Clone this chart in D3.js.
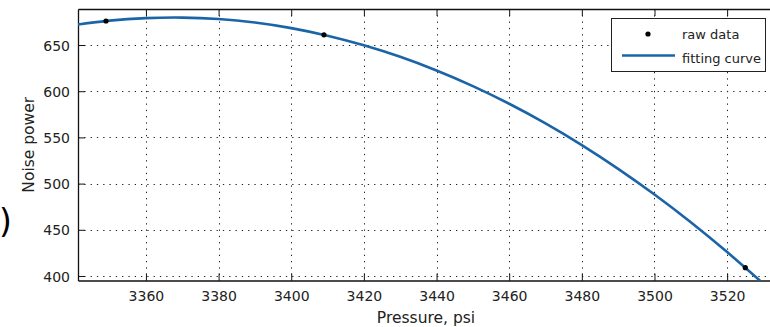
<!DOCTYPE html>
<html>
<head>
<meta charset="utf-8">
<script src="https://cdn.jsdelivr.net/npm/d3@7.9.0/dist/d3.min.js"></script>
<style>
  body { margin: 0; background: #fff; }
  svg { display: block; font-family: "DejaVu Sans", sans-serif; }
</style>
</head>
<body>
<svg id="chart" width="770" height="327"></svg>
<script>
// raw data points
const rawPressure = [3349, 3409, 3525];
const rawNoise = [676, 661, 409];

// fitting curve
const curvePressure = [3340, 3350, 3360, 3370, 3380, 3390, 3400, 3410, 3420, 3430,
  3440, 3450, 3460, 3470, 3480, 3490, 3500, 3510, 3520, 3530];
const curveNoise = [671.5, 676.4, 679.1, 679.7, 678.1, 674.3, 668.3, 660.1, 649.7, 637.2,
  622.4, 605.5, 586.4, 565.2, 541.7, 516.0, 488.2, 458.2, 425.9, 391.6];

const xTicks = [3360, 3380, 3400, 3420, 3440, 3460, 3480, 3500, 3520];
const yTicks = [400, 450, 500, 550, 600, 650];
const legendLabels = ["raw data", "fitting curve"];

const svg = d3.select("#chart");
const plotL = 78, plotT = 9, plotR = 774, plotB = 280.5;
const blue = "#1c64a8";

const x = d3.scaleLinear().domain([3341.3, 3532.9]).range([plotL, plotR]);
const y = d3.scaleLinear().domain([395.1, 689]).range([plotB, plotT]);

// stray bracket at the left edge of the picture
svg.append("text").attr("x", -1).attr("y", 233).attr("font-size", 33)
  .attr("fill", "#000").text(")");

svg.append("clipPath").attr("id", "plot")
  .append("rect").attr("x", plotL).attr("y", plotT)
  .attr("width", plotR - plotL).attr("height", plotB - plotT);

// dotted grid
const grid = svg.append("g").attr("stroke", "#222").attr("stroke-width", 1)
  .attr("stroke-dasharray", "1.3,5");
grid.selectAll(".vg").data(xTicks).join("line")
  .attr("x1", d => Math.round(x(d)) + 0.5).attr("x2", d => Math.round(x(d)) + 0.5)
  .attr("y1", plotT).attr("y2", plotB);
grid.selectAll(".hg").data(yTicks).join("line")
  .attr("y1", d => Math.round(y(d)) + 0.5).attr("y2", d => Math.round(y(d)) + 0.5)
  .attr("x1", plotL).attr("x2", plotR);

// axes with inward ticks
const xAxis = svg.append("g").attr("transform", `translate(0,${plotB})`)
  .call(d3.axisBottom(x).tickValues(xTicks).tickSizeInner(-7).tickSizeOuter(0).tickPadding(11).tickFormat(d3.format("d")));
const xTop = svg.append("g").attr("transform", `translate(0,${plotT})`)
  .call(d3.axisTop(x).tickValues(xTicks).tickSizeInner(-7).tickSizeOuter(0).tickFormat(""));
const yAxis = svg.append("g").attr("transform", `translate(${plotL},0)`)
  .call(d3.axisLeft(y).tickValues(yTicks).tickSizeInner(-7).tickSizeOuter(0).tickPadding(8));

[xAxis, xTop, yAxis].forEach(g => {
  g.selectAll(".domain").attr("stroke", "#111").attr("stroke-width", 1.3);
  g.selectAll(".tick line").attr("stroke", "#111");
  g.selectAll("text").attr("font-family", "DejaVu Sans, sans-serif")
    .attr("font-size", 14).attr("fill", "#222");
});
yAxis.selectAll("text").attr("dy", "0.36em");

// fitting curve
const line = d3.line().x(d => x(d[0])).y(d => y(d[1])).curve(d3.curveNatural);
svg.append("path")
  .datum(curvePressure.map((p, i) => [p, curveNoise[i]]))
  .attr("clip-path", "url(#plot)")
  .attr("fill", "none").attr("stroke", blue).attr("stroke-width", 2.6)
  .attr("d", line);

// raw data
svg.append("g").selectAll("circle")
  .data(rawPressure.map((p, i) => [p, rawNoise[i]]))
  .join("circle")
  .attr("cx", d => x(d[0])).attr("cy", d => y(d[1])).attr("r", 2.6)
  .attr("fill", "#000");

// axis labels
svg.append("text").attr("x", (plotL + plotR) / 2).attr("y", 322.5)
  .attr("text-anchor", "middle").attr("font-size", 15.5).attr("fill", "#222")
  .text("Pressure, psi");
svg.append("text")
  .attr("transform", `translate(34,${(plotT + plotB) / 2}) rotate(-90)`)
  .attr("text-anchor", "middle").attr("font-size", 15.5).attr("fill", "#222")
  .text("Noise power");

// legend
const lg = svg.append("g");
lg.append("rect").attr("x", 611.5).attr("y", 18.5).attr("width", 154).attr("height", 53)
  .attr("fill", "#fff").attr("stroke", "#222").attr("stroke-width", 1);
lg.append("circle").attr("cx", 648).attr("cy", 34).attr("r", 2.6).attr("fill", "#000");
lg.append("line").attr("x1", 622).attr("x2", 675).attr("y1", 55.5).attr("y2", 55.5)
  .attr("stroke", blue).attr("stroke-width", 2.6);
lg.selectAll("text").data(legendLabels).join("text")
  .attr("x", 682).attr("y", (d, i) => 39 + i * 24)
  .attr("font-size", 13).attr("fill", "#222").text(d => d);
</script>
</body>
</html>
